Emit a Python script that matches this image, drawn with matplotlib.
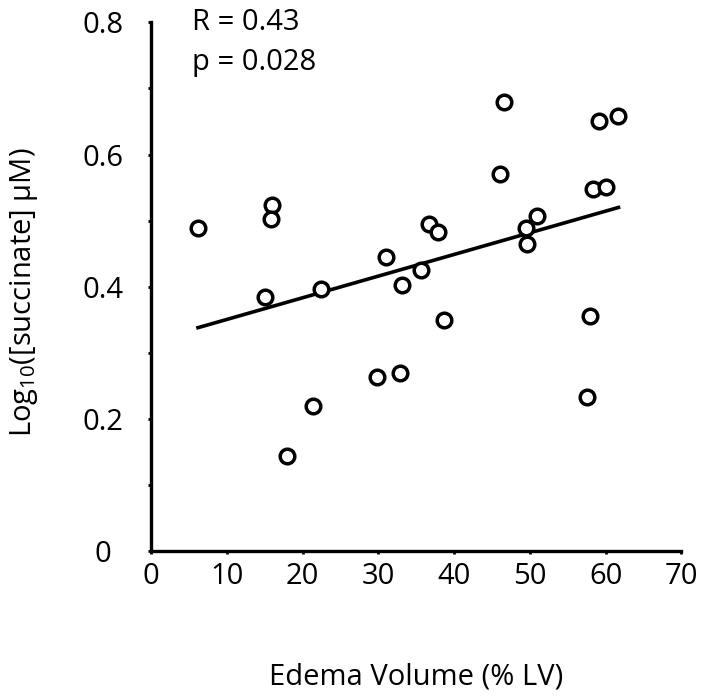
import matplotlib as mpl
mpl.use('Agg')
import matplotlib.pyplot as plt
import numpy as np

# edema volume (% LV) vs log10 succinate
edema = [6.2, 16.0, 15.9, 15.1, 22.4, 31.0, 33.1, 29.8, 32.9, 21.4, 18.0,
         46.6, 59.1, 61.7, 46.0, 58.3, 60.1, 36.7, 37.9, 50.9, 49.5, 49.6,
         35.7, 38.7, 58.0, 57.6]
succ = [0.489, 0.523, 0.503, 0.384, 0.396, 0.445, 0.403, 0.263, 0.269, 0.220, 0.144,
        0.680, 0.650, 0.659, 0.570, 0.548, 0.551, 0.495, 0.483, 0.507, 0.489, 0.464,
        0.425, 0.350, 0.356, 0.234]
stats_txt = ["R = 0.43", "p = 0.028"]

plt.rcParams['font.family'] = ['Open Sans', 'DejaVu Sans']
plt.rcParams['mathtext.fontset'] = 'custom'
plt.rcParams['mathtext.rm'] = 'Open Sans'
plt.rcParams['mathtext.it'] = 'Open Sans'

fs = 21

fig = plt.figure(figsize=(7.09, 6.96), dpi=100)
ax = fig.add_axes([0.213, 0.208, 0.748, 0.76])

x = np.array(edema)
y = np.array(succ)
ax.plot(x, y, 'o', ms=10.5, mfc='white', mec='black', mew=2.5, zorder=3)

# regression line over data range
k, b = np.polyfit(x, y, 1)
xl = np.array([x.min(), x.max()])
ax.plot(xl, k * xl + b, color='black', lw=2.6, zorder=2)

ax.set_xlim(0, 70)
ax.set_ylim(0, 0.8)
ax.set_xticks(np.arange(0, 71, 10))
ax.set_yticks([0, 0.2, 0.4, 0.6, 0.8])
ax.set_yticklabels(["0", "0.2", "0.4", "0.6", "0.8"])
ax.set_yticks(np.arange(0.1, 0.8, 0.2), minor=True)
ax.tick_params(axis='both', which='both', direction='out', length=2.5, width=2, labelsize=fs)
ax.tick_params(axis='x', pad=5)
ax.tick_params(axis='y', pad=32)
for lab in ax.get_yticklabels():
    lab.set_horizontalalignment('center')

for s in ['top', 'right']:
    ax.spines[s].set_visible(False)
for s in ['left', 'bottom']:
    ax.spines[s].set_linewidth(2.4)

ax.set_xlabel('Edema Volume (% LV)', fontsize=fs)
ax.xaxis.set_label_coords(0.5, -0.211)
ax.set_ylabel('Log$_{10}$([succinate] μM)', fontsize=fs)
ax.yaxis.set_label_coords(-0.209, 0.49)

ax.text(5.4, 0.7887, stats_txt[0], fontsize=fs, va='baseline', ha='left')
ax.text(5.4, 0.7282, stats_txt[1], fontsize=fs, va='baseline', ha='left')

fig.savefig('out.png', dpi=100)
